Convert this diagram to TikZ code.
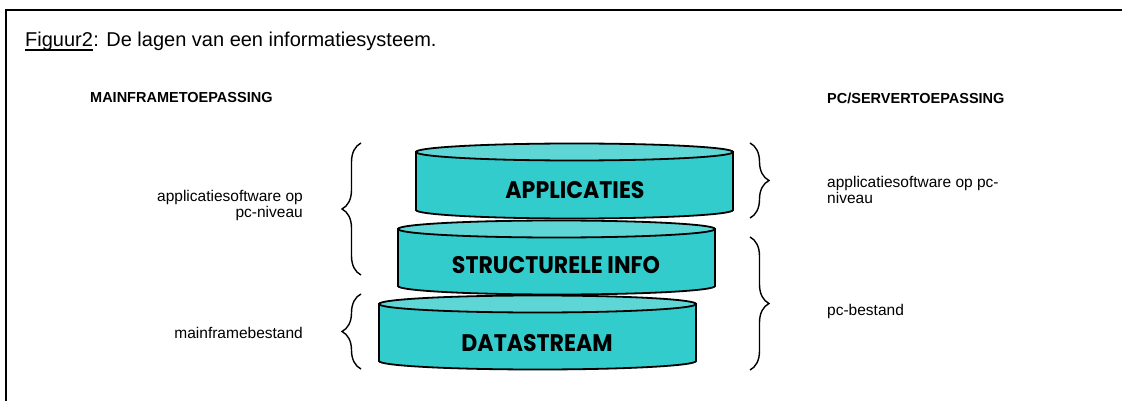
\documentclass[tikz,border=0pt]{standalone}
\usepackage{fontspec}
\setmainfont{Liberation Sans}
\newfontfamily\diskfont{Poppins}[FakeStretch=0.92]
\usetikzlibrary{decorations.pathreplacing}
\definecolor{diskbody}{HTML}{33CCCC}
\definecolor{disktop}{HTML}{5ED6D6}
\newcommand{\diskshape}[5]{%
  \path[fill=diskbody, draw=black, line width=1.8pt] (#1,#3) -- (#1,#4)
    arc[start angle=180, end angle=360, x radius=#5pt, y radius=8.5pt] -- (#2,#3) -- cycle;
  \path[fill=disktop, draw=black, line width=1.8pt] ({(#1+#2)/2},#3) ellipse[x radius=#5pt, y radius=8.5pt];
}
\tikzset{
  ttl/.style={font=\fontsize{20}{24}\selectfont, inner sep=0pt},
  hdr/.style={font=\bfseries\fontsize{14.5}{17}\selectfont, inner sep=0pt},
  lbl/.style={font=\fontsize{15.5}{16}\selectfont, inner sep=0pt},
  disklabel/.style={font=\diskfont\bfseries\fontsize{24}{28}\selectfont, inner sep=0pt},
  curly/.style={decorate, decoration={brace, amplitude=19pt}, line width=1.4pt},
}
\begin{document}
\begin{tikzpicture}[x=1pt, y=-1pt]
\useasboundingbox (0,0) rectangle (1122,401);
% frame
\draw[line width=2pt] (6,402) -- (6,10) -- (1123,10);
% title
\node[ttl, anchor=base west] (fig) at (25,47) {Figuur2};
\node[ttl, anchor=base west] (title) at (fig.base east) {: De lagen van een informatiesysteem.};
\draw[line width=1.2pt] ([yshift=-3pt]fig.base west) -- ([yshift=-3pt]fig.base east);
% headers
\node[hdr, anchor=west] (mfhead) at (90,98) {MAINFRAMETOEPASSING};
\node[hdr, anchor=west] (pchead) at (827,98) {PC/SERVERTOEPASSING};
% disks
\diskshape{379}{696}{304}{361}{158.5}
\diskshape{398}{715}{229}{286}{158.5}
\diskshape{416}{733}{152}{210}{158.5}
\node[disklabel] (appl) at (575,190) {APPLICATIES};
\node[disklabel] (struct) at (556,265) {STRUCTURELE INFO};
\node[disklabel] (data) at (537,343) {DATASTREAM};
% braces
\draw[curly] (361,275) -- (361,143);
\draw[curly] (361,369) -- (361,294);
\draw[curly] (750,143) -- (750,218);
\draw[curly] (750,237) -- (750,370);
% labels
\node[lbl, anchor=east, align=right] (lappl) at (303,205) {applicatiesoftware op\\pc-niveau};
\node[lbl, anchor=east] (ldata) at (303,333) {mainframebestand};
\node[lbl, anchor=west, align=left] (rappl) at (827,190) {applicatiesoftware op pc-\\niveau};
\node[lbl, anchor=west] (rdata) at (827,311) {pc-bestand};
\end{tikzpicture}
\end{document}
